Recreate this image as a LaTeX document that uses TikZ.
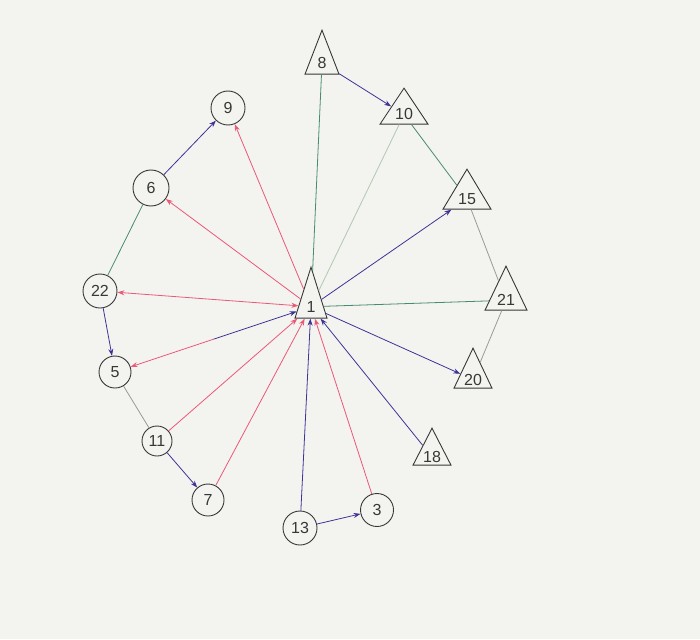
\documentclass[tikz,border=0pt]{standalone}
\usepackage{fontspec}
\setmainfont{Liberation Sans}
\usetikzlibrary{shapes.geometric,arrows.meta}
\definecolor{bgc}{RGB}{243,243,239}
\definecolor{blueE}{RGB}{62,52,150}
\definecolor{redE}{RGB}{236,88,120}
\definecolor{greenE}{RGB}{72,140,110}
\definecolor{lgreenE}{RGB}{178,200,178}
\definecolor{grayE}{RGB}{150,156,150}
\definecolor{inkE}{RGB}{55,55,55}
\tikzset{
  lbl/.style={font=\fontsize{16}{16}\selectfont, text=inkE},
  tri/.style={draw=inkE, line width=0.9pt, isosceles triangle, shape border rotate=90,
    isosceles triangle stretches, inner sep=0pt, anchor=apex, lbl},
  circ/.style={draw=inkE, line width=0.9pt, circle, inner sep=0pt, lbl},
  edge/.style={line width=0.8pt},
  arr/.style={edge, -{Stealth[length=7pt,width=5pt]}},
  arrb/.style={edge, {Stealth[length=7pt,width=5pt]}-{Stealth[length=7pt,width=5pt]}},
}
\begin{document}
\begin{tikzpicture}[x=1pt,y=-1pt]
\fill[bgc] (0,0) rectangle (700,639);
\useasboundingbox (0,0) rectangle (700,639);
% triangles
\node[tri, minimum width=32pt, minimum height=51pt] (n1) at (311,266) {1};
\node[tri, minimum width=34pt, minimum height=44pt] (n8) at (322,29) {8};
\node[tri, minimum width=48pt, minimum height=36pt] (n10) at (404,87) {10};
\node[tri, minimum width=48pt, minimum height=40pt] (n15) at (467,168) {15};
\node[tri, minimum width=42pt, minimum height=44pt] (n21) at (506,265) {21};
\node[tri, minimum width=38pt, minimum height=40pt] (n20) at (473,347) {20};
\node[tri, minimum width=38pt, minimum height=37pt] (n18) at (432,427) {18};
% circles
\node[circ, minimum size=34pt] (n9) at (228,108) {9};
\node[circ, minimum size=36pt] (n6) at (151,188) {6};
\node[circ, minimum size=34pt] (n22) at (100,291) {22};
\node[circ, minimum size=32pt] (n5) at (115,372) {5};
\node[circ, minimum size=30pt] (n11) at (157,441) {11};
\node[circ, minimum size=32pt] (n7) at (208,500) {7};
\node[circ, minimum size=34pt] (n13) at (300,528) {13};
\node[circ, minimum size=33pt] (n3) at (377,510) {3};
% plain lines
\draw[edge, greenE] (n1) -- (n8);
\draw[edge, lgreenE] (n1) -- (n10);
\draw[edge, greenE] (n1) -- (n21);
\draw[edge, greenE] (n10) -- (n15);
\draw[edge, grayE] (n15) -- (n21);
\draw[edge, grayE] (n21) -- (n20);
\draw[edge, greenE] (n6) -- (n22);
\draw[edge, grayE] (n5) -- (n11);
% blue arrows
\draw[arr, blueE] (n8) -- (n10);
\draw[arr, blueE] (n1) -- (n15);
\draw[arr, blueE] (n1) -- (n20);
\draw[arr, blueE] (n18) -- (n1);
\draw[arr, blueE] (n13) -- (n1);
\draw[arr, blueE] (n6) -- (n9);
\draw[arr, blueE] (n22) -- (n5);
\draw[arr, blueE] (n11) -- (n7);
\draw[arr, blueE] (n13) -- (n3);
% red arrows
\draw[arr, redE] (n3) -- (n1);
\draw[arr, redE] (n7) -- (n1);
\draw[arr, redE] (n11) -- (n1);
\draw[arr, redE] (n1) -- (n6);
\draw[arr, redE] (n1) -- (n9);
\draw[arrb, redE] (n22) -- (n1);
% 1 <-> 5 : half blue, half red
\path (n1) -- (n5) coordinate[midway] (m15);
\draw[arr, redE] (m15) -- (n5);
\draw[arr, blueE] (m15) -- (n1);
\end{tikzpicture}
\end{document}
